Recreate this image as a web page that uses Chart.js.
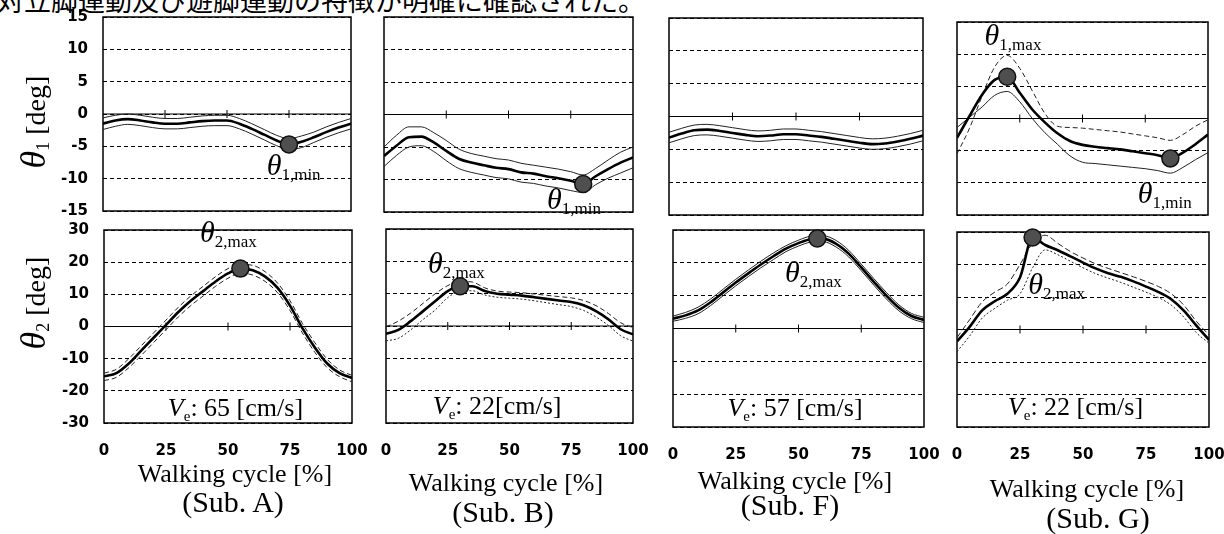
<!DOCTYPE html>
<html>
<head>
<meta charset="utf-8">
<script src="https://cdn.jsdelivr.net/npm/chart.js@4.4.1/dist/chart.umd.min.js"></script>
<style>
  html, body { margin: 0; padding: 0; background: #fff; }
  #stage { position: relative; width: 1224px; height: 534px; overflow: hidden; background: #fff; }
  canvas { position: absolute; }
  .serif { font-family: "Liberation Serif", "Times New Roman", serif; color: #000; }
  .jp { position: absolute; left: -3px; top: -14px; font: 27px/27px "Noto Sans CJK JP", sans-serif; white-space: nowrap; color: #000; }
  .ytitle { position: absolute; width: 200px; height: 40px; line-height: 40px; text-align: center; font-size: 28px; transform: rotate(-90deg); white-space: nowrap; }
  .ytitle i { font-size: 36px; }
  .ytitle .s { font-size: 18px; vertical-align: -4px; line-height: 0; }
  .walk { position: absolute; width: 300px; text-align: center; font-size: 26px; line-height: 26px; white-space: nowrap; }
  .sub { position: absolute; width: 300px; text-align: center; font-size: 30px; line-height: 30px; white-space: nowrap; }
  .note { position: absolute; line-height: 30px; white-space: nowrap; }
  .note i { font-size: 30px; }
  .note .s { font-size: 17px; vertical-align: -5px; line-height: 0; }
  .ve { position: absolute; font-size: 26px; line-height: 26px; white-space: nowrap; transform: translateX(-50%); }
  .ve .s { font-size: 15px; vertical-align: -5px; line-height: 0; }
</style>
</head>
<body>
<div id="stage">
  <div class="jp">対立脚運動及び遊脚運動の特徴が明確に確認された。</div>
</div>
<script>
// walking cycle sample points [%]
const cycle = [0,5,10,15,20,25,30,35,40,45,50,55,60,65,70,75,80,85,90,95,100];
const xTicks = [0,25,50,75,100];
const zeroTicks = [25,50,75];
const th1Ticks = [15,10,5,0,-5,-10,-15];
const th2Ticks = [30,20,10,0,-10,-20,-30];

// Sub. A
const aTh1Mean = [-1.5,-1.0,-0.8,-1.0,-1.3,-1.5,-1.5,-1.3,-1.1,-1.0,-1.0,-1.5,-2.3,-3.2,-4.1,-4.7,-4.3,-3.6,-2.8,-2.1,-1.5];
const aTh1Up   = [-0.6,-0.2,0.0,-0.2,-0.5,-0.7,-0.7,-0.5,-0.3,-0.2,-0.2,-0.7,-1.5,-2.4,-3.3,-3.8,-3.4,-2.8,-2.0,-1.3,-0.7];
const aTh1Lo   = [-2.4,-1.9,-1.6,-1.8,-2.1,-2.3,-2.3,-2.1,-1.9,-1.8,-1.8,-2.3,-3.1,-4.0,-4.9,-5.5,-5.2,-4.4,-3.6,-2.9,-2.3];
const aTh1Min  = [75,-4.7];
const aTh2Mean = [-15.5,-14.5,-11.5,-7.5,-3.5,0.5,4.5,8.0,11.0,14.0,16.5,18.0,17.5,15.5,12.0,6.5,-0.5,-6.5,-11.5,-14.5,-16.0];
const aTh2Up   = [-14.5,-13.3,-10.0,-6.0,-2.0,2.0,6.0,9.5,12.5,15.5,18.0,19.3,19.0,17.0,13.5,8.0,1.0,-5.0,-10.2,-13.5,-15.2];
const aTh2Lo   = [-16.8,-15.8,-12.8,-9.0,-5.0,-1.0,3.0,6.5,9.5,12.5,15.0,16.6,16.0,14.0,10.5,5.0,-2.0,-8.0,-12.8,-15.6,-17.2];
const aTh2Max  = [55,18.0];

// Sub. B
const bTh1Mean = [-6.4,-4.8,-3.5,-3.4,-4.3,-5.6,-6.8,-7.4,-7.8,-8.2,-8.4,-8.9,-9.1,-9.5,-9.8,-10.2,-10.7,-9.5,-8.4,-7.4,-6.6];
const bTh1Up   = [-5.0,-3.2,-1.9,-1.9,-2.8,-4.0,-5.3,-6.0,-6.4,-6.8,-7.0,-7.5,-7.8,-8.1,-8.4,-8.8,-9.3,-8.3,-7.0,-5.8,-5.0];
const bTh1Lo   = [-8.0,-6.3,-5.0,-4.8,-5.7,-7.1,-8.3,-8.9,-9.3,-9.7,-9.9,-10.4,-10.6,-11.0,-11.3,-11.7,-12.0,-10.8,-9.8,-9.0,-8.2];
const bTh1Min  = [80,-10.7];
const bTh2Mean = [-2.4,-1.2,1.5,4.6,7.7,10.8,12.3,12.3,10.8,10.0,9.7,9.4,8.9,8.4,7.9,7.4,6.4,4.6,2.1,-1.0,-2.6];
const bTh2Up   = [-0.3,1.5,4.0,7.0,10.0,12.5,13.8,13.6,11.8,10.8,10.5,10.3,9.9,9.5,9.1,8.7,7.9,6.3,3.9,1.0,-0.5];
const bTh2Lo   = [-4.6,-3.8,-1.2,2.0,5.0,8.8,10.7,10.9,9.6,8.9,8.6,8.3,7.8,7.2,6.6,6.0,4.8,2.8,0.2,-3.0,-4.7];
const bTh2Max  = [30,12.3];

// Sub. F
const fTh1Mean = [-3.2,-2.6,-2.1,-2.0,-2.2,-2.5,-2.8,-3.0,-2.9,-2.7,-2.7,-2.9,-3.1,-3.4,-3.7,-4.0,-4.2,-4.1,-3.8,-3.4,-2.9];
const fTh1Up   = [-2.4,-1.8,-1.3,-1.2,-1.4,-1.7,-2.0,-2.2,-2.1,-1.9,-1.9,-2.1,-2.3,-2.6,-2.9,-3.2,-3.4,-3.3,-3.0,-2.6,-2.1];
const fTh1Lo   = [-4.0,-3.4,-2.9,-2.8,-3.0,-3.3,-3.6,-3.8,-3.7,-3.5,-3.5,-3.7,-3.9,-4.2,-4.5,-4.8,-5.0,-4.9,-4.6,-4.2,-3.7];
const fTh2Mean = [3.0,4.0,5.5,8.0,11.0,14.0,16.8,19.5,22.0,24.3,26.0,27.2,27.3,25.8,22.8,18.6,14.2,10.0,6.3,3.8,2.6];
const fTh2Up   = [3.8,4.9,6.5,9.0,12.0,15.0,17.8,20.5,23.0,25.2,26.9,28.1,28.2,26.8,23.8,19.6,15.2,11.0,7.2,4.6,3.4];
const fTh2Lo   = [2.2,3.1,4.5,7.0,10.0,13.0,15.8,18.5,21.0,23.4,25.1,26.3,26.4,24.8,21.8,17.6,13.2,9.0,5.4,3.0,1.8];
const fTh2Max  = [57.5,27.4];

// Sub. G
const gTh1Mean = [-3.0,0.4,3.7,6.0,6.5,4.0,1.4,-0.6,-2.3,-3.5,-4.1,-4.4,-4.6,-4.8,-5.1,-5.4,-5.7,-6.2,-5.3,-4.0,-2.5];
const gTh1Up   = [-5.5,-1.5,3.5,8.0,9.8,7.8,4.3,0.8,-1.2,-1.4,-1.5,-1.7,-1.9,-2.1,-2.4,-2.7,-3.0,-3.4,-2.5,-1.2,-0.2];
const gTh1Lo   = [-1.4,0.2,1.8,3.6,4.2,2.6,0.0,-2.2,-4.0,-5.8,-6.8,-7.0,-7.2,-7.4,-7.6,-7.8,-8.1,-8.5,-7.6,-6.4,-5.3];
const gTh1Max  = [20,6.5];
const gTh1Min  = [85,-6.2];
const gTh2Mean = [-3.7,0.8,5.9,8.7,11.0,16.0,28.3,26.0,24.4,22.5,20.6,18.8,17.3,16.2,14.8,13.2,11.5,9.3,5.8,1.2,-3.2];
const gTh2Up   = [-2.5,3.0,8.5,11.5,14.0,20.0,26.5,29.0,26.5,24.0,22.0,20.2,18.8,17.5,16.2,14.8,13.2,11.0,7.5,2.5,-1.7];
const gTh2Lo   = [-6.8,-2.0,3.5,6.5,9.0,11.0,19.0,24.5,23.0,21.0,19.0,17.2,15.8,14.5,13.0,11.5,9.8,7.5,3.8,-1.0,-4.2];
const gTh2Max  = [30,28.3];

const subjects = ['(Sub. A)','(Sub. B)','(Sub. F)','(Sub. G)'];
const speedTexts = [': 65 [cm/s]', ': 22[cm/s]', ': 57 [cm/s]', ': 22 [cm/s]'];

const stage = document.getElementById('stage');
const DASH = [5, 3];
const DOT = [2, 2];

const panels = [
  { box:[103,17,351,211], top:true,  first:true,  ticks:th1Ticks, mean:aTh1Mean, up:aTh1Up, lo:aTh1Lo, dots:[aTh1Min], dash:[[],[]],
    notes:[{x:66,y:-9.4,s:'1,min'}] },
  { box:[104,230,352,423], top:false, first:true, ticks:th2Ticks, mean:aTh2Mean, up:aTh2Up, lo:aTh2Lo, dots:[aTh2Max], dash:[DASH,DASH],
    notes:[{x:38.7,y:26.4,s:'2,max'}], ve:{x:53,y:-28,col:0} },
  { box:[384,17,633,212], top:true,  first:false, ticks:th1Ticks, mean:bTh1Mean, up:bTh1Up, lo:bTh1Lo, dots:[bTh1Min], dash:[[],[]],
    notes:[{x:65.5,y:-14.5,s:'1,min'}] },
  { box:[386,229,633,423], top:false, first:false, ticks:th2Ticks, mean:bTh2Mean, up:bTh2Up, lo:bTh2Lo, dots:[bTh2Max], dash:[DASH,DOT],
    notes:[{x:17,y:16.5,s:'2,max'}], ve:{x:45,y:-27.5,col:1} },
  { box:[669,18,923,215], top:true,  first:false, ticks:th1Ticks, mean:fTh1Mean, up:fTh1Up, lo:fTh1Lo, dots:[], dash:[[],[]],
    notes:[] },
  { box:[673,230,924,427], top:false, first:false, ticks:th2Ticks, mean:fTh2Mean, up:fTh2Up, lo:fTh2Lo, dots:[fTh2Max], dash:[[],[]],
    notes:[{x:44.6,y:14.2,s:'2,max'}], ve:{x:48.6,y:-27,col:2} },
  { box:[957,22,1208,215], top:true,  first:false, ticks:th1Ticks, mean:gTh1Mean, up:gTh1Up, lo:gTh1Lo, dots:[gTh1Max,gTh1Min], dash:[DASH,[]],
    notes:[{x:11,y:11.4,s:'1,max'},{x:72,y:-13.2,s:'1,min'}] },
  { box:[957,232,1209,427], top:false, first:false, ticks:th2Ticks, mean:gTh2Mean, up:gTh2Up, lo:gTh2Lo, dots:[gTh2Max], dash:[[6,3],DOT],
    notes:[{x:28.3,y:11,s:'2,max'}], ve:{x:47,y:-26.5,col:3} }
];

// plot frame drawn under the curves
const frame = {
  id: 'frame',
  beforeDatasetsDraw(chart) {
    const a = chart.chartArea, ctx = chart.ctx;
    ctx.save();
    ctx.strokeStyle = '#000';
    ctx.lineWidth = 1.5;
    ctx.strokeRect(a.left, a.top, a.right - a.left, a.bottom - a.top);
    ctx.restore();
  }
};

function addText(cls, html, left, top) {
  const d = document.createElement('div');
  d.className = cls + ' serif';
  d.innerHTML = html;
  d.style.left = left + 'px';
  d.style.top = top + 'px';
  stage.appendChild(d);
  return d;
}

function build(p) {
  const [x0, y0, x1, y1] = p.box;
  const padT = 14, padB = p.top ? 14 : 0, xh = p.top ? 0 : 40, padR = 24;
  const W = (x1 - x0) + 60 + padR, H = (y1 - y0) + padT + padB + xh;
  const left = x0 - 60, top = y0 - padT;
  const cv = document.createElement('canvas');
  cv.width = W; cv.height = H;
  cv.style.left = left + 'px'; cv.style.top = top + 'px';
  cv.style.width = W + 'px'; cv.style.height = H + 'px';
  stage.appendChild(cv);

  const pts = arr => cycle.map((x, i) => ({ x, y: arr[i] }));
  const lim = p.ticks[0];
  const chart = new Chart(cv, {
    type: 'line',
    data: { datasets: [
      { data: p.dots.map(d => ({ x: d[0], y: d[1] })), showLine: false, pointRadius: 8.5,
        pointBackgroundColor: '#4f4f4f', pointBorderColor: '#111', pointBorderWidth: 1.5, clip: false, order: 0 },
      { data: pts(p.mean), borderColor: '#000', borderWidth: 2.6, pointRadius: 0,
        cubicInterpolationMode: 'monotone', order: 1 },
      { data: pts(p.up), borderColor: '#222', borderWidth: 1, borderDash: p.dash[0], pointRadius: 0,
        cubicInterpolationMode: 'monotone', order: 2 },
      { data: pts(p.lo), borderColor: '#222', borderWidth: 1, borderDash: p.dash[1], pointRadius: 0,
        cubicInterpolationMode: 'monotone', order: 2 },
      { data: zeroTicks.map(x => ({ x, y: 0 })), showLine: false, pointStyle: 'line', rotation: 90,
        pointRadius: 4, pointBorderWidth: 1, pointBorderColor: '#000', order: 3 },
      { data: [{ x: 0, y: 0 }, { x: 100, y: 0 }], borderColor: '#000', borderWidth: 1, pointRadius: 0, order: 4 }
    ] },
    options: {
      responsive: false, animation: false, events: [],
      layout: { padding: { left: 0, right: padR, top: padT, bottom: padB } },
      plugins: { legend: { display: false }, tooltip: { enabled: false } },
      scales: {
        x: {
          type: 'linear', min: 0, max: 100, display: !p.top,
          afterBuildTicks: s => { s.ticks = xTicks.map(v => ({ value: v })); },
          afterFit: s => { s.height = xh; s.paddingLeft = 0; s.paddingRight = 0; },
          grid: { display: false, drawTicks: false },
          border: { display: false },
          ticks: { padding: 19, color: '#000', maxRotation: 0, autoSkip: false,
                   font: { family: '"DejaVu Sans", sans-serif', weight: 'bold', size: 15 } }
        },
        y: {
          type: 'linear', min: -lim, max: lim,
          afterBuildTicks: s => { s.ticks = p.ticks.map(v => ({ value: v })); },
          afterFit: s => { s.width = 60; s.paddingTop = 0; s.paddingBottom = 0; },
          grid: { color: '#000', lineWidth: 1, drawTicks: false },
          border: { display: false, dash: [4, 3] },
          ticks: { display: p.first, padding: 15, color: '#000',
                   font: { family: '"DejaVu Sans", sans-serif', weight: 'bold', size: 15 } }
        }
      }
    },
    plugins: [frame]
  });

  const sx = chart.scales.x, sy = chart.scales.y;
  // θ annotations, anchored at the baseline-left of θ
  p.notes.forEach(n => {
    addText('note', '<i>θ</i><span class="s">' + n.s + '</span>',
      left + sx.getPixelForValue(n.x), top + sy.getPixelForValue(n.y) - 25);
  });
  if (p.ve) {
    addText('ve', '<i>V</i><span class="s">e</span>' + speedTexts[p.ve.col],
      left + sx.getPixelForValue(p.ve.x), top + sy.getPixelForValue(p.ve.y) - 22);
  }
}

panels.forEach(build);

// y axis titles
addText('ytitle', '<i>θ</i><span class="s">1</span> [deg]', 33 - 100, 122 - 20);
addText('ytitle', '<i>θ</i><span class="s">2</span> [deg]', 33 - 100, 303 - 20);

// column captions
const captionPos = [[235,461,233,487],[506,470,503,497],[795,468,790,490],[1087,476,1098,503]];
captionPos.forEach((c, i) => {
  addText('walk', 'Walking cycle [%]', c[0] - 150, c[1]);
  addText('sub', subjects[i], c[2] - 150, c[3]);
});
</script>
</body>
</html>
